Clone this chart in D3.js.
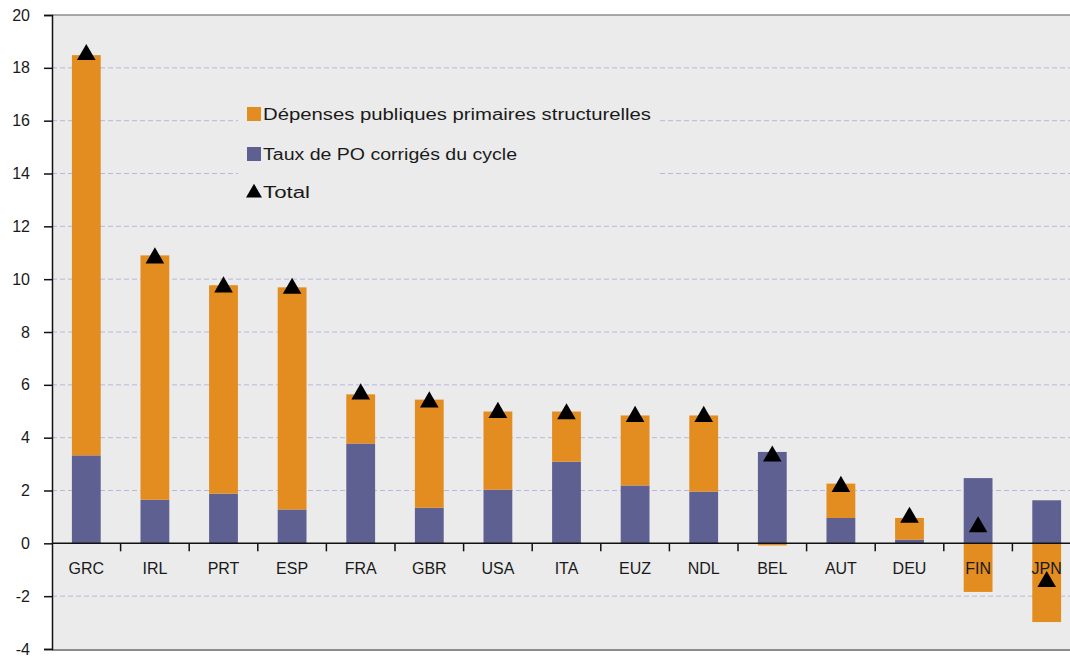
<!DOCTYPE html>
<html>
<head>
<meta charset="utf-8">
<script src="https://cdn.jsdelivr.net/npm/d3@7"></script>
<style>
  body { margin: 0; background: #fff; }
  text { font-family: "Liberation Sans", "DejaVu Sans", sans-serif; fill: #1a1a1a; }
</style>
</head>
<body>
<div id="chart"></div>
<script>
// Data
var countries = ["GRC", "IRL", "PRT", "ESP", "FRA", "GBR", "USA", "ITA", "EUZ", "NDL", "BEL", "AUT", "DEU", "FIN", "JPN"];
var tauxPO = [3.33, 1.65, 1.88, 1.28, 3.78, 1.35, 2.03, 3.09, 2.19, 1.96, 3.46, 0.96, 0.14, 2.47, 1.63];
var depenses = [15.15, 9.25, 7.89, 8.41, 1.86, 4.09, 2.96, 1.9, 2.65, 2.88, -0.08, 1.3, 0.82, -1.84, -2.98];
var totals = [18.5, 10.8, 9.7, 9.65, 5.65, 5.35, 4.95, 4.9, 4.8, 4.8, 3.3, 2.15, 0.98, 0.62, -1.45];
var yTicks = [-4, -2, 0, 2, 4, 6, 8, 10, 12, 14, 16, 18, 20];
var legendLabels = ["Dépenses publiques primaires structurelles", "Taux de PO corrigés du cycle", "Total"];

var svgWidth = 1070;
var svgHeight = 657;

var margin = { top: 15, right: 0, bottom: 8, left: 52 };
var plotBottom = 649;

var orange = "#e38c20";
var purple = "#5f6092";

var svg = d3.select("#chart")
  .append("svg")
  .attr("width", svgWidth)
  .attr("height", svgHeight);

// plot background
svg.append("rect")
  .attr("x", margin.left)
  .attr("y", margin.top)
  .attr("width", svgWidth - margin.left)
  .attr("height", plotBottom - margin.top)
  .attr("fill", "#ebebeb");

// top and bottom borders
svg.append("line")
  .attr("x1", margin.left).attr("x2", svgWidth)
  .attr("y1", margin.top).attr("y2", margin.top)
  .attr("stroke", "#8c8c8c").attr("stroke-width", 1.5);
svg.append("line")
  .attr("x1", margin.left).attr("x2", svgWidth)
  .attr("y1", plotBottom + 1).attr("y2", plotBottom + 1)
  .attr("stroke", "#8c8c8c").attr("stroke-width", 2);

// scales - the original chart is cut off on the right
var xScale = d3.scaleBand()
  .domain(countries)
  .range([margin.left, 1081])
  .paddingInner(0.58)
  .paddingOuter(0.29);

var yScale = d3.scaleLinear()
  .domain([-4, 20])
  .range([plotBottom, margin.top]);

// grid lines
svg.append("g")
  .selectAll("line")
  .data(yTicks.filter(d => d !== 0 && d !== 20 && d !== -4))
  .enter()
  .append("line")
  .attr("x1", margin.left)
  .attr("x2", svgWidth)
  .attr("y1", d => yScale(d))
  .attr("y2", d => yScale(d))
  .attr("stroke", "#b9b7e2")
  .attr("stroke-width", 1)
  .attr("stroke-dasharray", "5,3");

// stacked bars (diverging)
var table = countries.map(function(c, i) {
  return { country: c, taux: tauxPO[i], dep: depenses[i] };
});
var stack = d3.stack()
  .keys(["taux", "dep"])
  .offset(d3.stackOffsetDiverging);
var series = stack(table);
var colors = { taux: purple, dep: orange };

svg.append("g")
  .selectAll("g")
  .data(series)
  .enter()
  .append("g")
  .attr("fill", d => colors[d.key])
  .selectAll("rect")
  .data(d => d)
  .enter()
  .append("rect")
  .attr("x", d => xScale(d.data.country))
  .attr("width", xScale.bandwidth())
  .attr("y", d => yScale(Math.max(d[0], d[1])))
  .attr("height", d => Math.abs(yScale(d[0]) - yScale(d[1])));

// legend box (hides grid lines behind it)
var legend = svg.append("g");
legend.append("rect")
  .attr("x", 238).attr("y", 78)
  .attr("width", 419).attr("height", 135)
  .attr("fill", "#ebebeb");

var legendRows = [114, 154, 192];
legend.append("rect")
  .attr("x", 247).attr("y", legendRows[0] - 7)
  .attr("width", 14).attr("height", 14)
  .attr("fill", orange);
legend.append("rect")
  .attr("x", 247).attr("y", legendRows[1] - 7)
  .attr("width", 14).attr("height", 14)
  .attr("fill", purple);
legend.append("path")
  .attr("d", d3.symbol().type(d3.symbolTriangle).size(110))
  .attr("transform", `translate(254, ${legendRows[2] + 1})`)
  .attr("fill", "#000");

legend.selectAll("text")
  .data(legendLabels)
  .enter()
  .append("text")
  .attr("x", 263)
  .attr("y", (d, i) => legendRows[i])
  .attr("dy", "0.35em")
  .attr("font-size", "16px")
  .attr("textLength", (d, i) => [388, 254, 47][i])
  .attr("lengthAdjust", "spacingAndGlyphs")
  .text(d => d);

// total markers
svg.append("g")
  .selectAll("path")
  .data(totals)
  .enter()
  .append("path")
  .attr("d", d3.symbol().type(d3.symbolTriangle).size(150))
  .attr("transform", (d, i) => `translate(${xScale(countries[i]) + xScale.bandwidth() / 2}, ${yScale(d)})`)
  .attr("fill", "#000");

// y axis
var leftAxis = d3.axisLeft(yScale)
  .tickValues(yTicks)
  .tickSize(8)
  .tickPadding(14)
  .tickFormat(d => String(d));

var yAxis = svg.append("g")
  .attr("transform", `translate(${margin.left}, 0)`)
  .call(leftAxis);
yAxis.select(".domain").attr("stroke", "#111").attr("stroke-width", 1.5);
yAxis.selectAll(".tick line").attr("stroke", "#111").attr("stroke-width", 1.5);
yAxis.selectAll("text")
  .attr("font-size", "16px")
  .attr("fill", "#222");

// x axis at zero
var step = xScale.step();
var zeroY = yScale(0);
svg.append("line")
  .attr("x1", margin.left).attr("x2", svgWidth)
  .attr("y1", zeroY).attr("y2", zeroY)
  .attr("stroke", "#111").attr("stroke-width", 1.5);

svg.append("g")
  .selectAll("line")
  .data(countries.slice(1))
  .enter()
  .append("line")
  .attr("x1", d => xScale(d) - step * 0.29)
  .attr("x2", d => xScale(d) - step * 0.29)
  .attr("y1", zeroY)
  .attr("y2", zeroY + 8)
  .attr("stroke", "#111")
  .attr("stroke-width", 1.5);

svg.append("g")
  .selectAll("text")
  .data(countries)
  .enter()
  .append("text")
  .attr("x", d => xScale(d) + xScale.bandwidth() / 2)
  .attr("y", zeroY + 31)
  .attr("text-anchor", "middle")
  .attr("font-size", "16px")
  .text(d => d);
</script>
</body>
</html>
